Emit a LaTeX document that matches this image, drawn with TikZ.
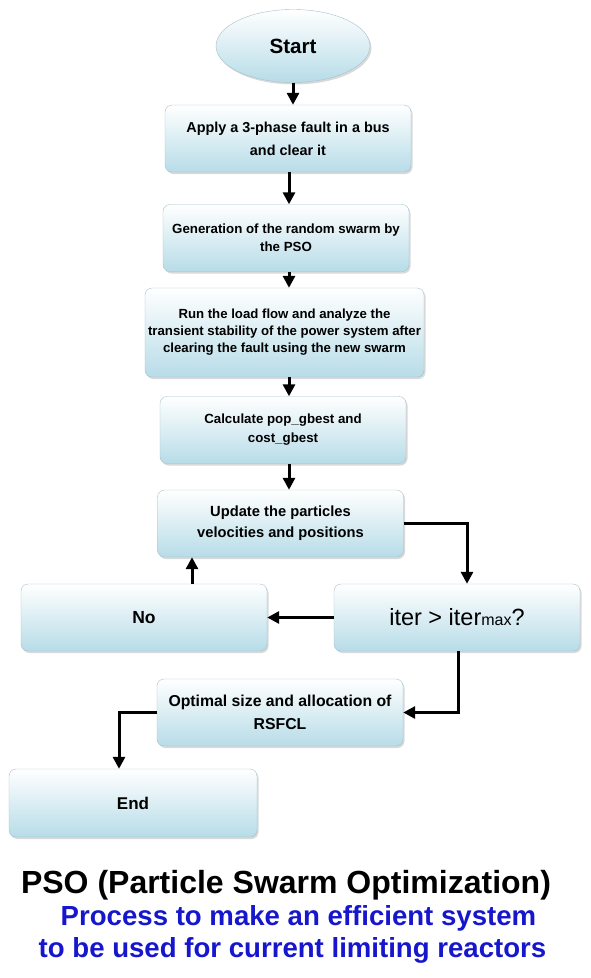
\documentclass[tikz,border=0pt]{standalone}
\usepackage{fontspec}
\setmainfont{Liberation Sans}
\usetikzlibrary{
    arrows.meta,
    calc,
    shadows,
    shapes.geometric,
}
\definecolor{boxblue}{RGB}{183,220,232}
\definecolor{boxline}{RGB}{165,192,202}
\definecolor{titleblue}{RGB}{22,22,205}

\begin{document}
\begin{tikzpicture}[
        x=1pt, y=-1pt,
        >={Triangle[length=12pt,width=12pt]},
        stage/.style={rectangle, rounded corners=7pt, draw=boxline, top color=white, bottom color=boxblue,
            drop shadow={shadow xshift=1.5pt, shadow yshift=-2pt, opacity=0.3},
            minimum width=246pt, minimum height=67pt, align=center, inner sep=2pt,
            font=\bfseries\fontsize{13}{21}\selectfont},
        terminal/.style={stage, ellipse, minimum width=154pt, minimum height=73pt},
        flow/.style={->, line width=3pt},
        caption/.style={anchor=base, font=\bfseries\fontsize{27.6}{30}\selectfont}
        ]
        \useasboundingbox (0,0) rectangle (590,978);
        \node[terminal, font=\bfseries\fontsize{20.6}{24}\selectfont] (START)  at (293,46) {Start};
        \node[stage, font=\bfseries\fontsize{14.4}{23}\selectfont]   (FAULT)  at (288,138.5) {Apply a 3-phase fault in a bus\\and clear it};
        \node[stage, font=\bfseries\fontsize{13.3}{18}\selectfont]   (SWARM)  at (286,238) {Generation of the random swarm by\\the PSO};
        \node[stage, minimum width=279pt, minimum height=89pt, font=\bfseries\fontsize{13.2}{17}\selectfont]
                                                                     (FLOW)   at (284.5,332.5) {Run the load flow and analyze the\\transient stability of the power system after\\clearing the fault using the new swarm};
        \node[stage, font=\bfseries\fontsize{13.3}{19}\selectfont]   (GBEST)  at (283,430) {Calculate pop\_gbest and\\cost\_gbest};
        \node[stage, font=\bfseries\fontsize{14.7}{21}\selectfont]   (UPDATE) at (280.5,523.5) {Update the particles\\velocities and positions};
        \node[stage, font=\fontsize{23.5}{26}\selectfont]            (ITER)   at (457,617.5) {iter > iter{\fontsize{16}{18}\selectfont max}?};
        \node[stage, font=\bfseries\fontsize{17.5}{20}\selectfont]   (NO)     at (144,617.5) {No};
        \node[stage, font=\bfseries\fontsize{15.8}{23}\selectfont]   (RESULT) at (280,712.5) {Optimal size and allocation of\\RSFCL};
        \node[stage, minimum width=248pt, minimum height=68pt, font=\bfseries\fontsize{17}{20}\selectfont]
                                                                     (END)    at (133,803) {End};
        \draw[flow] (START) -- (START |- FAULT.north);
        \draw[flow] ([xshift=1pt]FAULT.south) -- ([xshift=1pt]FAULT.south |- SWARM.north);
        \draw[flow] ([xshift=3pt]SWARM.south) -- ([xshift=3pt]SWARM.south |- FLOW.north);
        \draw[flow] ([xshift=4.5pt]FLOW.south) -- ([xshift=4.5pt]FLOW.south |- GBEST.north);
        \draw[flow] ([xshift=6pt]GBEST.south) -- ([xshift=6pt]GBEST.south |- UPDATE.north);
        \draw[flow] (UPDATE.east) -| ([xshift=10pt]ITER.north);
        \draw[flow] (ITER.west) -- (NO.east);
        \draw[flow] ([xshift=48pt]NO.north) -- ([xshift=48pt]NO.north |- UPDATE.south);
        \draw[flow] ([xshift=1pt]ITER.south) |- (RESULT.east);
        \draw[flow] (RESULT.west) -| ([xshift=-14pt]END.north);
        \node[caption, font=\bfseries\fontsize{32}{36}\selectfont] (TITLE) at (286,893) {PSO (Particle Swarm Optimization)};
        \node[caption, text=titleblue] (SUB1) at (298.5,925) {Process to make an efficient system};
        \node[caption, text=titleblue] (SUB2) at (292.5,957) {to be used for current limiting reactors};
    \end{tikzpicture}
\end{document}
